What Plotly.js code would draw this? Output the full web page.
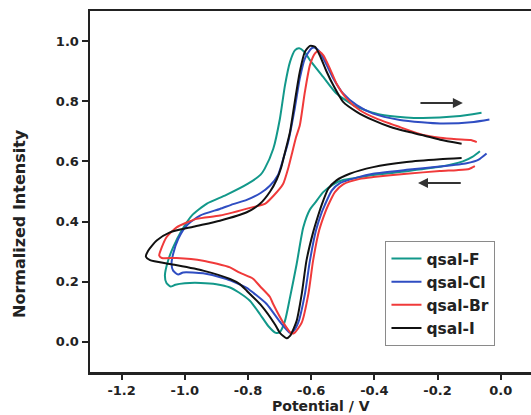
<!DOCTYPE html>
<html>
<head>
<meta charset="utf-8">
<script src="https://cdn.plot.ly/plotly-3.0.1.min.js"></script>
<style>
html,body{margin:0;padding:0;background:#fff;overflow:hidden;}
#chart{width:531px;height:415px;}
</style>
</head>
<body>
<div id="chart"></div>
<script>
// Series names
const seriesNames = ["qsal-F", "qsal-Cl", "qsal-Br", "qsal-I"];

// qsal-F (potential V, normalized intensity)
const xF = [-0.066,-0.090,-0.120,-0.193,-0.246,-0.298,-0.404,-0.460,-0.499,-0.530,-0.562,-0.588,-0.604,-0.625,-0.646,-0.667,-0.683,-0.699,-0.712,-0.736,-0.762,-0.794,-0.830,-0.857,-0.900,-0.950,-1.000,-1.030,-1.045,-1.058,-1.063,-1.053,-1.037,-1.010,-0.978,-0.930,-0.870,-0.800,-0.760,-0.747,-0.720,-0.699,-0.683,-0.667,-0.651,-0.638,-0.620,-0.604,-0.562,-0.520,-0.456,-0.383,-0.300,-0.247,-0.140,-0.061];
const yF = [0.634,0.615,0.600,0.582,0.575,0.567,0.555,0.545,0.538,0.524,0.498,0.462,0.440,0.381,0.259,0.148,0.070,0.033,0.030,0.053,0.092,0.137,0.165,0.181,0.192,0.196,0.195,0.190,0.184,0.196,0.220,0.270,0.314,0.370,0.420,0.460,0.488,0.526,0.556,0.576,0.642,0.742,0.853,0.931,0.970,0.976,0.962,0.937,0.881,0.826,0.781,0.756,0.746,0.744,0.750,0.762];

// qsal-Cl
const xCl = [-0.045,-0.070,-0.108,-0.193,-0.298,-0.404,-0.456,-0.509,-0.535,-0.557,-0.567,-0.585,-0.604,-0.620,-0.641,-0.657,-0.667,-0.699,-0.741,-0.784,-0.804,-0.868,-0.942,-1.005,-1.021,-1.037,-1.042,-1.037,-1.021,-0.994,-0.952,-0.889,-0.847,-0.804,-0.760,-0.730,-0.705,-0.688,-0.673,-0.652,-0.636,-0.620,-0.599,-0.588,-0.573,-0.551,-0.530,-0.499,-0.456,-0.404,-0.319,-0.250,-0.192,-0.085,-0.036];
const yCl = [0.626,0.606,0.594,0.583,0.572,0.559,0.546,0.528,0.503,0.455,0.430,0.370,0.270,0.159,0.064,0.035,0.030,0.067,0.126,0.164,0.180,0.209,0.228,0.231,0.224,0.237,0.259,0.292,0.342,0.387,0.420,0.442,0.458,0.472,0.495,0.520,0.555,0.610,0.664,0.776,0.876,0.942,0.976,0.978,0.964,0.920,0.876,0.826,0.787,0.759,0.738,0.730,0.726,0.731,0.739];

// qsal-Br
const xBr = [-0.082,-0.100,-0.140,-0.193,-0.298,-0.404,-0.446,-0.499,-0.525,-0.546,-0.556,-0.575,-0.594,-0.609,-0.630,-0.652,-0.662,-0.689,-0.720,-0.731,-0.762,-0.784,-0.826,-0.857,-0.942,-1.026,-1.073,-1.081,-1.073,-1.058,-1.026,-0.963,-0.889,-0.784,-0.745,-0.720,-0.689,-0.672,-0.660,-0.648,-0.636,-0.620,-0.604,-0.588,-0.578,-0.562,-0.541,-0.520,-0.488,-0.446,-0.393,-0.319,-0.246,-0.192,-0.140,-0.095,-0.076];
const yBr = [0.584,0.575,0.571,0.568,0.559,0.548,0.542,0.524,0.498,0.455,0.430,0.370,0.270,0.159,0.064,0.031,0.028,0.065,0.125,0.150,0.185,0.210,0.230,0.248,0.270,0.279,0.279,0.287,0.314,0.348,0.381,0.409,0.420,0.448,0.460,0.485,0.525,0.580,0.630,0.680,0.720,0.831,0.920,0.959,0.967,0.953,0.909,0.859,0.809,0.770,0.742,0.714,0.688,0.679,0.674,0.671,0.664];

// qsal-I
const xI = [-0.124,-0.193,-0.298,-0.404,-0.478,-0.520,-0.546,-0.567,-0.578,-0.595,-0.615,-0.630,-0.646,-0.667,-0.678,-0.699,-0.715,-0.757,-0.804,-0.826,-0.857,-0.942,-1.047,-1.110,-1.123,-1.116,-1.089,-1.047,-0.973,-0.889,-0.804,-0.762,-0.730,-0.709,-0.695,-0.683,-0.667,-0.652,-0.636,-0.620,-0.604,-0.588,-0.573,-0.551,-0.530,-0.499,-0.456,-0.404,-0.351,-0.300,-0.246,-0.192,-0.124];
const yI = [0.611,0.607,0.598,0.581,0.559,0.537,0.509,0.455,0.420,0.360,0.270,0.159,0.070,0.020,0.012,0.030,0.059,0.120,0.170,0.192,0.209,0.237,0.259,0.272,0.283,0.303,0.337,0.364,0.383,0.403,0.431,0.459,0.500,0.540,0.580,0.630,0.698,0.798,0.898,0.964,0.984,0.981,0.953,0.898,0.853,0.798,0.765,0.737,0.715,0.700,0.687,0.672,0.659];

// Tick labels
const xTickVals = [-1.2, -1.0, -0.8, -0.6, -0.4, -0.2, 0.0];
const xTickText = ["-1.2", "-1.0", "-0.8", "-0.6", "-0.4", "-0.2", "0.0"];
const yTickVals = [0.0, 0.2, 0.4, 0.6, 0.8, 1.0];
const yTickText = ["0.0", "0.2", "0.4", "0.6", "0.8", "1.0"];

// Sweep-direction arrows: [tailX, headX, y]
const arrowForward = [-0.120, -0.259, 0.794];
const arrowReverse = [-0.122, -0.262, 0.528];

const colors = ["#12988a", "#2f4dc2", "#f03a3a", "#111111"];
const xs = [xF, xCl, xBr, xI];
const ys = [yF, yCl, yBr, yI];

const traces = seriesNames.map((n, i) => ({
  x: xs[i], y: ys[i], name: n, type: "scatter", mode: "lines",
  line: {color: colors[i], width: 2, shape: "spline", smoothing: 0.6}
}));

const fam = "DejaVu Sans";
const tickFont = {family: fam, size: 13, weight: "bold", color: "#222"};

const layout = {
  width: 531, height: 415,
  margin: {l: 90, r: 0, t: 11, b: 43, pad: 0},
  paper_bgcolor: "#fff", plot_bgcolor: "#fff",
  showlegend: true,
  legend: {
    x: 0.670, y: 0.363, xanchor: "left", yanchor: "top",
    bordercolor: "#8a8a8a", borderwidth: 1, bgcolor: "#fff",
    font: {family: fam, size: 15.5, weight: "bold", color: "#222"},
    tracegroupgap: 0
  },
  xaxis: {
    range: [-1.3, 0.0956], showgrid: false, zeroline: false,
    showline: true, linecolor: "#222", linewidth: 2.5, mirror: true,
    ticks: "outside", ticklen: 5, tickwidth: 2, tickcolor: "#222",
    tickvals: xTickVals, ticktext: xTickText, tickfont: tickFont
  },
  yaxis: {
    range: [-0.1, 1.1], showgrid: false, zeroline: false,
    showline: true, linecolor: "#222", linewidth: 2.5, mirror: false,
    ticks: "outside", ticklen: 6, tickwidth: 2, tickcolor: "#222",
    tickvals: yTickVals, ticktext: yTickText, tickfont: tickFont
  },
  annotations: [
    {text: "Potential / V", xref: "paper", yref: "paper", x: 0.524, y: -0.1191,
     xanchor: "center", yanchor: "bottom", borderpad: 0, showarrow: false,
     font: {family: fam, size: 14, weight: "bold", color: "#222"}},
    {text: "Normalized Intensity", xref: "paper", yref: "paper", x: -0.1587, y: 0.41,
     xanchor: "center", yanchor: "middle", textangle: -90, showarrow: false,
     font: {family: fam, size: 16, weight: "bold", color: "#222"}},
    {text: "", x: arrowForward[0], y: arrowForward[2], ax: arrowForward[1], ay: arrowForward[2],
     xref: "x", yref: "y", axref: "x", ayref: "y", showarrow: true,
     arrowhead: 2, arrowsize: 1, arrowwidth: 2, arrowcolor: "#333"},
    {text: "", x: arrowReverse[1], y: arrowReverse[2], ax: arrowReverse[0], ay: arrowReverse[2],
     xref: "x", yref: "y", axref: "x", ayref: "y", showarrow: true,
     arrowhead: 2, arrowsize: 1, arrowwidth: 2, arrowcolor: "#333"}
  ]
};

Plotly.newPlot("chart", traces, layout, {displayModeBar: false, staticPlot: true});
</script>
</body>
</html>
